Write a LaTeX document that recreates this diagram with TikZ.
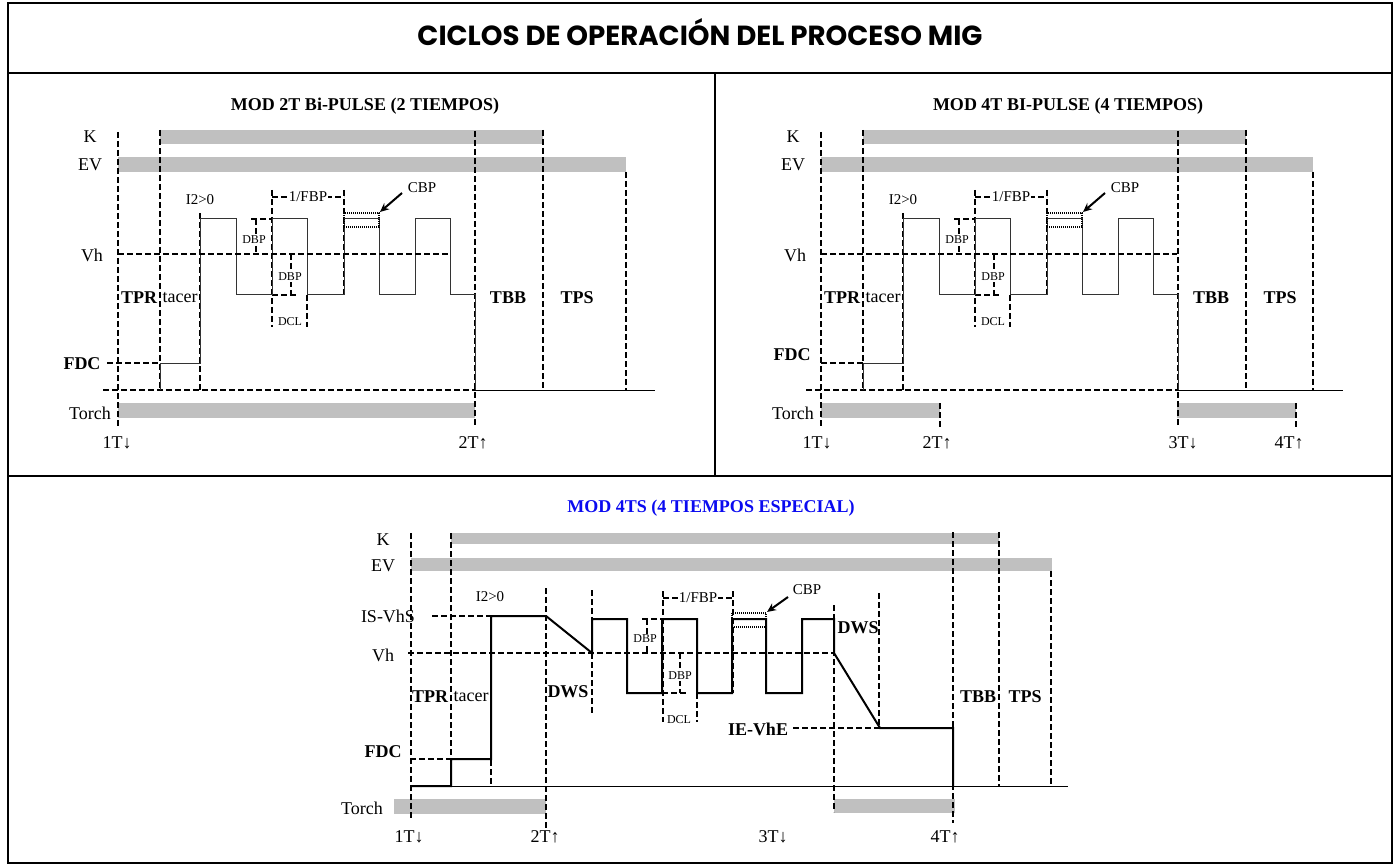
\documentclass[tikz,border=0pt]{standalone}
\usepackage{fontspec}
\setmainfont{Liberation Serif}
\newfontfamily\titlefont{Poppins}
\usetikzlibrary{arrows.meta}
\definecolor{barg}{HTML}{C0C0C0}
\definecolor{tblue}{HTML}{0A0AF0}
\tikzset{
  dsh/.style={line width=2pt, dash pattern=on 6pt off 3pt},
  dshf/.style={line width=1.3pt, dash pattern=on 6pt off 3pt},
  sigA/.style={line width=1pt, black!80},
  sigB/.style={line width=2pt},
  gline/.style={line width=1pt},
  gbar/.style={fill=barg},
  frame/.style={line width=2pt},
  lbl/.style={inner sep=0pt, font=\fontsize{18}{18}\selectfont},
  blbl/.style={inner sep=0pt, font=\fontsize{18}{18}\selectfont\bfseries},
  mlbl/.style={inner sep=1pt, font=\fontsize{15}{15}\selectfont},
  slbl/.style={inner sep=1pt, fill=white, font=\fontsize{12}{12}\selectfont},
  ptitle/.style={inner sep=0pt, font=\fontsize{18}{18}\selectfont\bfseries},
  cbpbox/.style={line width=1.5pt, dash pattern=on 1pt off 1pt},
  arr/.style={line width=2pt, -{Stealth[length=9pt,width=8pt]}},
}
\newcommand\bipulsecore{%
  \fill[gbar] (160,130) rectangle (543,144);
  \draw[dshf] (118,132) -- (118,427);
  \draw[dsh] (160,130) -- (160,390);
  \draw[dsh] (200,213) -- (200,390);
  \draw[dsh] (475,131) -- (475,425);
  \draw[dsh] (543,130) -- (543,390);
  \draw[dsh] (103,390) -- (475,390);
  \draw[dsh] (272,190) -- (272,327);
  \draw[dsh] (344,190) -- (344,295);
  \draw[dsh] (307,295) -- (307,327);
  \draw[dsh] (272,197) -- (344,197);
  \draw[dsh] (251,219) -- (272,219) (256,219) -- (256,254);
  \draw[dsh] (291,254) -- (291,295) (272,295) -- (297,295);
  \draw[sigA] (160,390) -- (160,363) -- (200,363) -- (200,219) -- (236,219) -- (236,295)
     -- (272,295) -- (272,219) -- (307,219) -- (307,295) -- (344,295) -- (344,219)
     -- (379,219) -- (379,295) -- (415,295) -- (415,219) -- (450,219) -- (450,295)
     -- (475,295) -- (475,390);
  \draw[cbpbox] (344,213) rectangle (379,227);
  \node[mlbl, fill=white] (fbp) at (308,197) {1/FBP};
  \node[slbl] (dbpa) at (254,240) {DBP};
  \node[slbl] (dbpb) at (290,277) {DBP};
  \node[slbl] (dcl) at (290,322) {DCL};
  \node[mlbl] (cbp) at (422,188) {CBP};
  \coordinate (cbpa) at (402,193);
  \coordinate (cbpb) at (380,212);
  \draw[arr] (cbpa) -- (cbpb);
  \node[mlbl] (itwo) at (200,200) {I2>0};
  \node[lbl] (k) at (90,137) {K};
  \node[lbl] (ev) at (90,165) {EV};
  \node[lbl] (vh) at (92,255) {Vh};
  \node[blbl] (tpr) at (139,298) {TPR};
  \node[lbl] (tacer) at (180,298) {tacer};
  \node[lbl] (torch) at (90,413) {Torch};
  \node[blbl] (tbb) at (508,298) {TBB};
  \node[blbl] (tps) at (577,298) {TPS};
}
\begin{document}
\begin{tikzpicture}[x=1pt,y=-1pt]
\useasboundingbox (0,0) rectangle (1399,866);
% frame
\draw[frame] (8,3) rectangle (1392,863);
\draw[frame] (8,73) -- (1392,73);
\draw[frame] (8,476) -- (1392,476);
\draw[frame] (715,73) -- (715,476);
\node[inner sep=0pt, anchor=base] (title) at (700,46)
  {\resizebox{565pt}{!}{\titlefont\bfseries CICLOS DE OPERACIÓN DEL PROCESO MIG}};

% ---------- panel 1 ----------
\begin{scope}[name prefix=pa-]
  \fill[gbar] (118,157) rectangle (626,172);
  \fill[gbar] (118,403) rectangle (475,418);
  \bipulsecore
  \draw[dsh] (626,172) -- (626,390);
  \draw[gline] (475,390) -- (655,390);
  \draw[dsh] (118,254) -- (450,254);
  \draw[dsh] (107,363) -- (160,363);
  \node[blbl] (fdc) at (82,364) {FDC};
  \node[lbl] (ta) at (117,443) {1T↓};
  \node[lbl] (tb) at (473,443) {2T↑};
  \node[ptitle] (ttl) at (365,106) {MOD 2T Bi-PULSE (2 TIEMPOS)};
\end{scope}

% ---------- panel 2 ----------
\begin{scope}[name prefix=pb-, xshift=703pt]
  \fill[gbar] (118,157) rectangle (610,172);
  \fill[gbar] (118,403) rectangle (237,418);
  \fill[gbar] (474,403) rectangle (593,418);
  \bipulsecore
  \draw[dsh] (610,172) -- (610,390);
  \draw[gline] (475,390) -- (640,390);
  \draw[dsh] (118,254) -- (474,254);
  \draw[dsh] (118,363) -- (160,363);
  \draw[dsh] (237,403) -- (237,428);
  \draw[dsh] (593,403) -- (593,428);
  \node[blbl] (fdc) at (89,355) {FDC};
  \node[lbl] (ta) at (114,443) {1T↓};
  \node[lbl] (tb) at (234,443) {2T↑};
  \node[lbl] (tc) at (480,443) {3T↓};
  \node[lbl] (td) at (586,443) {4T↑};
  \node[ptitle] (ttl) at (365,106) {MOD 4T BI-PULSE (4 TIEMPOS)};
\end{scope}

% ---------- panel 3 ----------
\begin{scope}[name prefix=pc-]
  \fill[gbar] (451,533) rectangle (999,544);
  \fill[gbar] (411,558) rectangle (1052,571);
  \fill[gbar] (394,799) rectangle (546,814);
  \fill[gbar] (834,799) rectangle (955,813);
  \draw[gline] (411,786) -- (1068,786);
  \draw[dshf] (411,533) -- (411,820);
  \draw[dsh] (451,533) -- (451,786);
  \draw[dsh] (491,616) -- (491,786);
  \draw[dsh] (546,588) -- (546,828);
  \draw[dsh] (592,590) -- (592,713);
  \draw[dsh] (663,591) -- (663,722);
  \draw[dsh] (733,591) -- (733,693);
  \draw[dsh] (697,693) -- (697,722);
  \draw[dsh] (834,605) -- (834,812);
  \draw[dsh] (879,593) -- (879,728);
  \draw[dsh] (953,532) -- (953,823);
  \draw[dsh] (999,532) -- (999,786);
  \draw[dsh] (1051,571) -- (1051,786);
  \draw[dsh] (410,759) -- (451,759);
  \draw[dsh] (432,616) -- (491,616);
  \draw[dsh] (408,653) -- (834,653);
  \draw[dsh] (793,728) -- (880,728);
  \draw[dsh] (663,598) -- (733,598);
  \draw[dsh] (642,619) -- (662,619) (647,619) -- (647,653);
  \draw[dsh] (680,653) -- (680,693) (662,693) -- (687,693);
  \draw[sigB] (411,786) -- (451,786) -- (451,759) -- (491,759) -- (491,616) -- (546,616)
     -- (592,653) -- (592,619) -- (627,619) -- (627,693) -- (662,693) -- (662,619)
     -- (697,619) -- (697,693) -- (732,693) -- (732,619) -- (766,619) -- (766,693)
     -- (802,693) -- (802,619) -- (834,619) -- (834,653) -- (880,728) -- (953,728)
     -- (953,786);
  \draw[cbpbox] (732,613) rectangle (766,627);
  \node[mlbl, fill=white] (fbp) at (698,598) {1/FBP};
  \node[slbl] (dbpa) at (645,639) {DBP};
  \node[slbl] (dbpb) at (680,676) {DBP};
  \node[slbl] (dcl) at (679,720) {DCL};
  \node[mlbl] (cbp) at (807,590) {CBP};
  \coordinate (cbpa) at (788,597);
  \coordinate (cbpb) at (767,612);
  \draw[arr] (cbpa) -- (cbpb);
  \node[mlbl] (itwo) at (490,597) {I2>0};
  \node[lbl] (k) at (383,540) {K};
  \node[lbl] (ev) at (383,566) {EV};
  \node[lbl] (isvhs) at (388,616) {IS-VhS};
  \node[lbl] (vh) at (383,655) {Vh};
  \node[blbl] (tpr) at (430,697) {TPR};
  \node[lbl] (tacer) at (471,697) {tacer};
  \node[blbl] (fdc) at (383,752) {FDC};
  \node[lbl] (torch) at (362,808) {Torch};
  \node[blbl] (dwsa) at (568,692) {DWS};
  \node[blbl] (dwsb) at (858,628) {DWS};
  \node[blbl] (ievhe) at (758,729) {IE-VhE};
  \node[blbl] (tbb) at (978,697) {TBB};
  \node[blbl] (tps) at (1025,697) {TPS};
  \node[lbl] (ta) at (409,837) {1T↓};
  \node[lbl] (tb) at (545,837) {2T↑};
  \node[lbl] (tc) at (773,837) {3T↓};
  \node[lbl] (td) at (945,837) {4T↑};
  \node[ptitle, text=tblue] (ttl) at (711,508) {MOD 4TS (4 TIEMPOS ESPECIAL)};
\end{scope}
\end{tikzpicture}
\end{document}
